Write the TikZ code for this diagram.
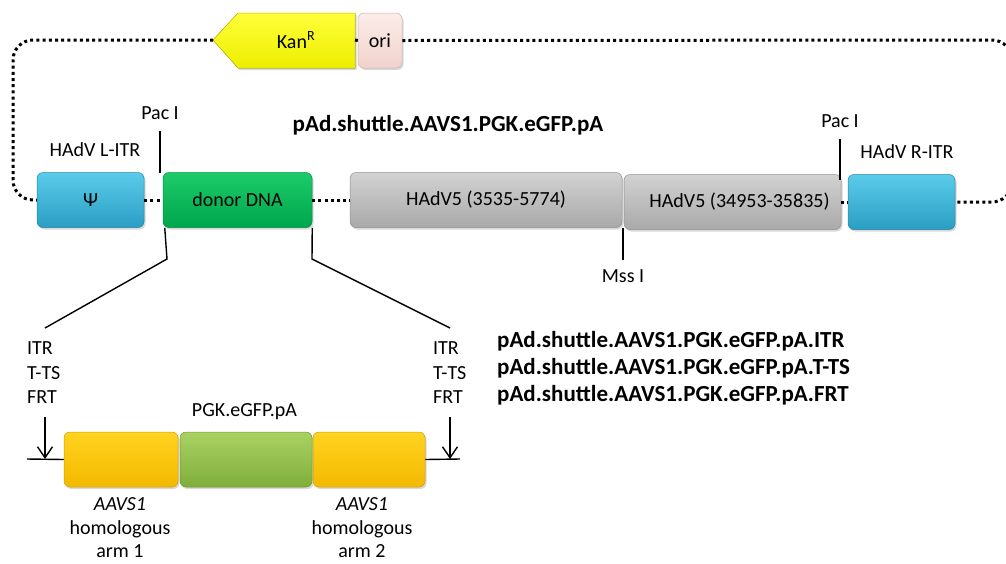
\documentclass[tikz,border=0pt]{standalone}
\usepackage{fontspec}
\setmainfont{Carlito}
\usetikzlibrary{arrows.meta,shadows}

\definecolor{itrtop}{HTML}{5ACBEA}\definecolor{itrbot}{HTML}{2A9EC3}
\definecolor{dontop}{HTML}{1CCB68}\definecolor{donbot}{HTML}{00A64C}
\definecolor{grytop}{HTML}{D2D2D2}\definecolor{grybot}{HTML}{A9A9A9}
\definecolor{oritop}{HTML}{FCECE8}\definecolor{oribot}{HTML}{F1D2CC}
\definecolor{armtop}{HTML}{FFD420}\definecolor{armbot}{HTML}{F4B800}
\definecolor{pgktop}{HTML}{A9D262}\definecolor{pgkbot}{HTML}{7FAE3B}
\definecolor{kantop}{HTML}{FFFF3A}\definecolor{kanbot}{HTML}{EEEE00}

\begin{document}
\begin{tikzpicture}[x=1pt,y=-1pt,
  font=\fontsize{20}{24}\selectfont,
  seg/.style n args={3}{rounded corners=6pt, minimum height=55pt,
    minimum width=#1, inner sep=0pt, top color=#2, bottom color=#3,
    draw=#3!85!black, line width=0.5pt,
    drop shadow={opacity=0.3, shadow xshift=1.5pt, shadow yshift=-2pt}},
  dna/.style={line width=3pt, dash pattern=on 3pt off 3.2pt},
  site/.style={line width=1.4pt},
  lbl/.style={inner sep=0pt},
  bigname/.style={inner sep=0pt, font=\fontsize{23}{27}\selectfont\bfseries}]

\useasboundingbox (0,0) rectangle (1006,563);

% plasmid backbone elements
\fill[top color=kantop, bottom color=kanbot, draw=kanbot!80!black, line width=0.5pt,
  drop shadow={opacity=0.3, shadow xshift=1.5pt, shadow yshift=-2pt}]
  (213,40) -- (238,13) -- (355,13) -- (355,68) -- (238,68) -- cycle;
\coordinate (kantip) at (213,40);
\coordinate (kanend) at (355,40);
\node[lbl] (kan) at (296,40) {Kan\textsuperscript{R}};
\node[seg={44pt}{oritop}{oribot}] (ori) at (380,40.5) {ori};

% adenoviral shuttle segments
\node[seg={107pt}{itrtop}{itrbot}] (psi) at (90.5,200) {Ψ};
\node[seg={149pt}{dontop}{donbot}] (donor) at (237.5,200) {donor DNA};
\node[seg={272pt}{grytop}{grybot}] (hadA) at (486,200) {HAdV5 (3535-5774)};
\node[seg={217pt}{grytop}{grybot}] (hadB) at (732.5,202) {\hspace*{14pt}HAdV5 (34953-35835)};
\node[seg={107pt}{itrtop}{itrbot}] (ritr) at (901.5,202) {};

% dotted backbone
\draw[dna, rounded corners=20pt] (kantip) -- (13,40) -- (13,200) -- (psi.west);
\draw[dna, rounded corners=20pt] (ori.east) -- (1012,40) -- (1012,202) -- (ritr.east);
\draw[dna] (kanend) -- (ori.west);
\draw[dna] (psi.east) -- (donor.west);
\draw[dna] (donor.east) -- (hadA.west);
\draw[dna] (hadB.east) -- (ritr.west);

% labels of the shuttle
\node[lbl] (litr) at (95,150) {HAdV L-ITR};
\node[lbl] (ritrl) at (907,152) {HAdV R-ITR};
\node[lbl] (pacL) at (160,113) {Pac I};
\node[lbl] (pacR) at (840,121) {Pac I};
\node[lbl] (mss) at (623,276) {Mss I};
\node[bigname] (title) at (448,125) {pAd.shuttle.AAVS1.PGK.eGFP.pA};

% restriction sites
\draw[site] (160,131) -- (160,173);
\draw[site] (840,139) -- (840,180);
\draw[site] (623,228) -- (623,260);

% expansion of the donor DNA
\coordinate (expL) at (45,328);
\coordinate (expR) at (450,328);
\draw[site] ([xshift=2pt]donor.south west) -- (167,259) -- (expL);
\draw[site] (donor.south east) -- (312,259) -- (expR);

% donor cassette
\node[seg={114pt}{armtop}{armbot}] (arm1) at (121,459.5) {};
\node[seg={132pt}{pgktop}{pgkbot}] (pgk) at (246,459.5) {};
\node[seg={112pt}{armtop}{armbot}] (arm2) at (369,459.5) {};
\node[lbl] (pgkl) at (244.5,412) {PGK.eGFP.pA};

\coordinate (lineL) at (27,459);
\coordinate (lineR) at (460,459);
\draw[site] (lineL) -- (arm1.west);
\draw[site] (arm2.east) -- (lineR);

\node[lbl, anchor=west, align=left, font=\fontsize{20}{24.5}\selectfont] (tsL) at (27,373) {ITR\\T-TS\\FRT};
\node[lbl, anchor=west, align=left, font=\fontsize{20}{24.5}\selectfont] (tsR) at (433,373) {ITR\\T-TS\\FRT};
\coordinate (tipL) at (45,459);
\coordinate (tipR) at (450,459);
\draw[site, -{Straight Barb[length=11pt,width=15pt]}] (45,417) -- (tipL);
\draw[site, -{Straight Barb[length=11pt,width=15pt]}] (450,417) -- (tipR);

\node[lbl, align=center, font=\fontsize{20}{23.5}\selectfont] (arm1l) at (120,528) {\textit{AAVS1}\\homologous\\arm 1};
\node[lbl, align=center, font=\fontsize{20}{23.5}\selectfont] (arm2l) at (362,528) {\textit{AAVS1}\\homologous\\arm 2};

% derived constructs
\node[bigname, anchor=west, align=left] (variants) at (497,368)
  {pAd.shuttle.AAVS1.PGK.eGFP.pA.ITR\\pAd.shuttle.AAVS1.PGK.eGFP.pA.T-TS\\pAd.shuttle.AAVS1.PGK.eGFP.pA.FRT};

\end{tikzpicture}
\end{document}
